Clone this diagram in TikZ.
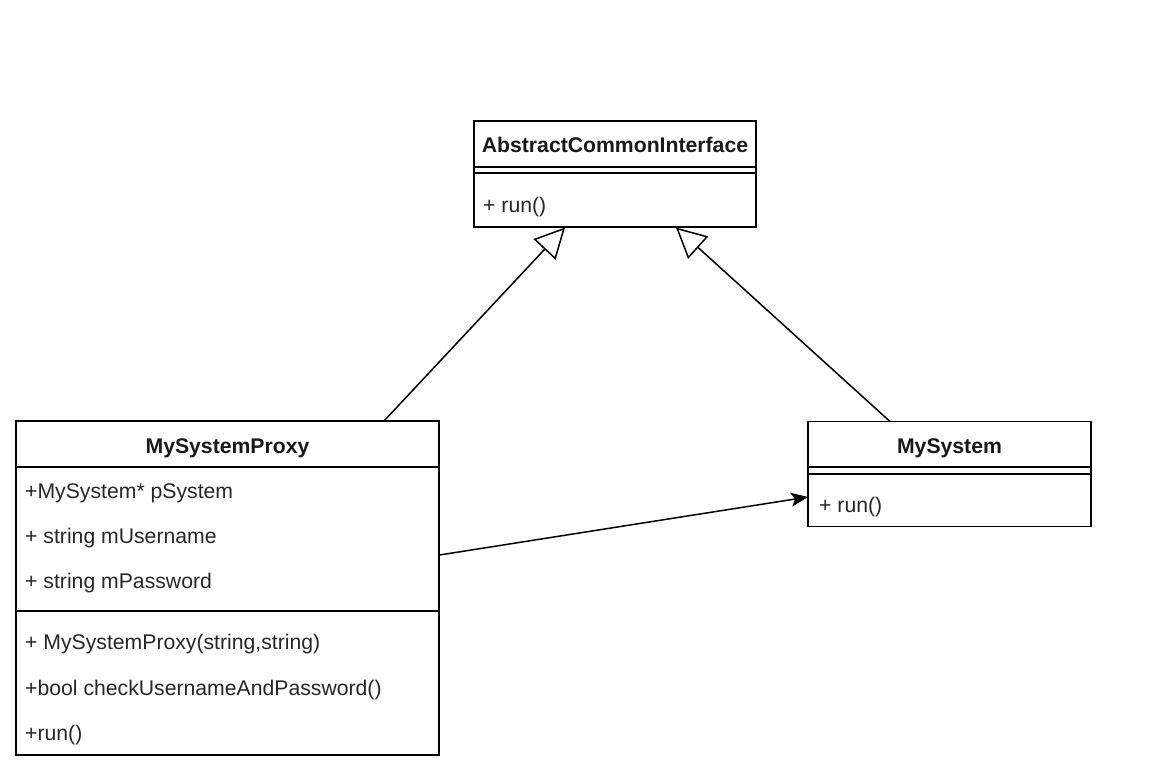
\documentclass[tikz,border=0pt]{standalone}
\usepackage{fontspec}
\setmainfont{Liberation Sans}
\usetikzlibrary{arrows.meta}
\begin{document}
\begin{tikzpicture}[x=1pt,y=-1pt,
  classbox/.style={draw=black,line width=1.3pt,rectangle,inner sep=0pt},
  sepline/.style={line width=1.3pt},
  title/.style={anchor=base,font=\fontsize{21.2}{24}\selectfont\bfseries,inner sep=0pt,text=black!90},
  member/.style={anchor=base west,font=\fontsize{21.2}{24}\selectfont,inner sep=0pt,text=black!85},
  inherit/.style={line width=1.5pt,-{Triangle[open,length=30pt,width=30pt,fill=white]}},
  assoc/.style={line width=1.5pt,-{Stealth[length=17pt,width=14pt,inset=4pt]}}]
\useasboundingbox (0,0) rectangle (1159,771);
% AbstractCommonInterface
\node[classbox,minimum width=282pt,minimum height=106pt] (aci) at (615,174) {};
\draw[sepline] (474,167) -- (756,167) (474,173) -- (756,173);
\node[title] (acit) at (615,152) {AbstractCommonInterface};
\node[member] (acir) at (483,212) {+ run()};
% MySystem
\node[classbox,minimum width=283pt,minimum height=105pt] (ms) at (949.5,474) {};
\draw[sepline] (808,467) -- (1091,467) (808,474) -- (1091,474);
\node[title] (mst) at (949.5,453) {MySystem};
\node[member] (msr) at (819,512) {+ run()};
% MySystemProxy
\node[classbox,minimum width=423pt,minimum height=334pt] (msp) at (227.5,588) {};
\draw[sepline] (16,467) -- (439,467) (16,611) -- (439,611);
\node[title] (mspt) at (227.5,453) {MySystemProxy};
\node[member] (m1) at (25,498) {+MySystem* pSystem};
\node[member] (m2) at (25,543) {+ string mUsername};
\node[member] (m3) at (25,588) {+ string mPassword};
\node[member] (m4) at (25,649) {+ MySystemProxy(string,string)};
\node[member] (m5) at (25,695) {+bool checkUsernameAndPassword()};
\node[member] (m6) at (25,740) {+run()};
% connectors
\coordinate (p1) at (384,421);
\coordinate (t1) at (565,227.5);
\coordinate (p2) at (890,421.5);
\coordinate (t2) at (676,227.5);
\coordinate (a1) at (439.5,555);
\coordinate (a2) at (808,497);
\draw[inherit] (p1) -- (t1);
\draw[inherit] (p2) -- (t2);
\draw[assoc] (a1) -- (a2);
\end{tikzpicture}
\end{document}
